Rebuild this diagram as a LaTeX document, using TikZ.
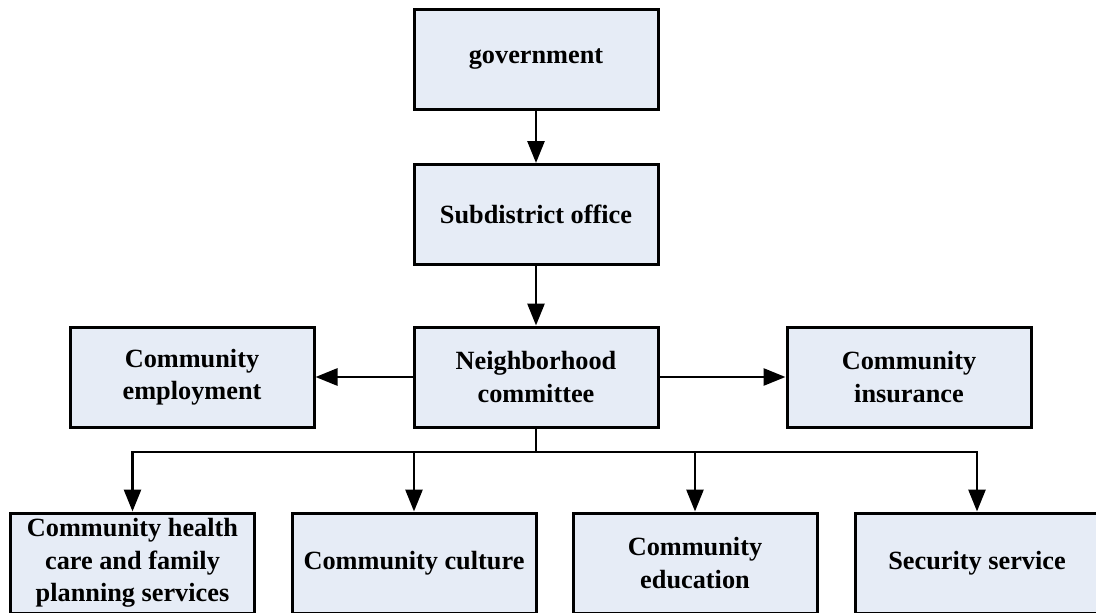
\documentclass[tikz,border=0pt]{standalone}
\usepackage{fontspec}
\setmainfont{Liberation Serif}
\usetikzlibrary{arrows.meta}

\tikzset{every picture/.style={line width=0.75pt}}
\definecolor{boxfill}{RGB}{230,236,246}
\tikzset{
  unitbox/.style={draw=black, fill=boxfill, line width=3pt, minimum width=244pt,
    minimum height=100pt, align=center, inner sep=2pt,
    font=\fontsize{26.3}{32.5}\selectfont\bfseries},
  flow/.style={line width=2.8pt, line join=miter, -{Triangle[length=22pt,width=17pt]}},
}

\begin{document}
\begin{tikzpicture}[x=1pt,y=1pt,yscale=-1,xscale=1]
\useasboundingbox (0,0) rectangle (1096,613);

%Flowchart: Process
\node [unitbox] (gov) at (536,59) {government};
%Flowchart: Process
\node [unitbox] (sub) at (536,214.5) {Subdistrict office};
%Flowchart: Process
\node [unitbox] (nbh) at (536,377) {Neighborhood\\committee};
%Flowchart: Process
\node [unitbox] (emp) at (192,377) {Community\\employment};
%Flowchart: Process
\node [unitbox] (ins) at (909,377) {Community\\insurance};
%Flowchart: Process
\node [unitbox] (health) at (132.5,563) {Community health\\care and family\\planning services};
%Flowchart: Process
\node [unitbox] (culture) at (414,563) {Community culture};
%Flowchart: Process
\node [unitbox] (edu) at (695,563) {Community\\education};
%Flowchart: Process
\node [unitbox] (sec) at (977,563) {Security service};

%Bus level
\coordinate (bus) at (536,452);

%Straight Lines
\draw [flow] (gov) -- (sub);
\draw [flow] (sub) -- (nbh);
\draw [flow] (nbh) -- (emp);
\draw [flow] (nbh) -- (ins);
%Elbow Lines
\draw [flow] (nbh.south) -- (bus) -| (health.north);
\draw [flow] (bus) -| (culture.north);
\draw [flow] (bus) -| (edu.north);
\draw [flow] (bus) -| (sec.north);

\end{tikzpicture}
\end{document}
